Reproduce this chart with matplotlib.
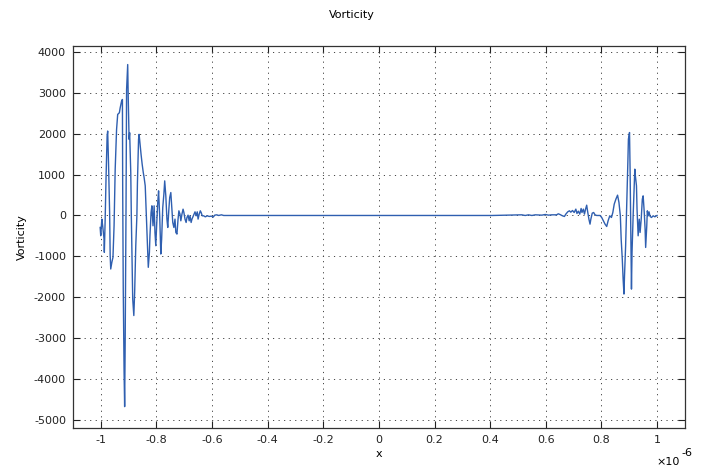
import matplotlib
matplotlib.use("Agg")
import matplotlib.pyplot as plt
import numpy as np

# x in units of 1e-6, vorticity values
left_x = [-1.002, -1.000, -0.996, -0.993, -0.988, -0.987, -0.984, -0.981, -0.977, -0.975,
          -0.972, -0.968, -0.966, -0.964, -0.960, -0.956, -0.952, -0.948, -0.943, -0.939,
          -0.933, -0.930, -0.925, -0.922, -0.921, -0.919, -0.916, -0.914, -0.912, -0.909,
          -0.907, -0.903, -0.901, -0.898, -0.896, -0.892, -0.890, -0.887, -0.885, -0.881,
          -0.878, -0.874, -0.870, -0.868, -0.864, -0.862, -0.858, -0.855, -0.851, -0.847,
          -0.844, -0.840, -0.836, -0.833, -0.829, -0.825, -0.823, -0.819, -0.816, -0.812,
          -0.808, -0.805, -0.802, -0.799, -0.795, -0.792, -0.788, -0.784, -0.781, -0.777,
          -0.773, -0.770, -0.766, -0.762, -0.759, -0.755, -0.752, -0.748, -0.744, -0.741,
          -0.737, -0.733, -0.730, -0.726, -0.722, -0.719, -0.715, -0.712, -0.708, -0.704,
          -0.701, -0.697, -0.693, -0.690, -0.686, -0.682, -0.679, -0.675, -0.672, -0.668,
          -0.664, -0.661, -0.657, -0.653, -0.650, -0.646, -0.642, -0.639, -0.635, -0.630,
          -0.624, -0.617, -0.610, -0.602, -0.596, -0.590, -0.583, -0.576, -0.566, -0.558]
left_y = [-293, -496, -89, -252, -577, -902, -89, 886, 1943, 2065,
          1293, 73, -984, -1309, -1146, -1024, -252, 1130, 2106, 2472,
          2512, 2634, 2797, 2837, 642, -1797, -3829, -4675, -3016, 236,
          3081, 3691, 2837, 1862, 2024, 1049, -8, -1228, -2041, -2447,
          -1878, -740, -8, 805, 1862, 1984, 1699, 1496, 1252, 1049,
          927, 724, -8, -577, -1268, -902, -496, 73, 236, -252,
          236, -415, -740, -252, 317, 602, -8, -943, -577, 195,
          520, 846, 480, -89, -293, 154, 439, 561, 154, -171,
          -293, -89, -415, -455, -89, 114, 33, -130, 33, 154,
          73, -89, -171, -49, 8, -130, -8, -171, -89, -24,
          41, 89, -8, 89, -89, 33, 114, 73, -8, -8,
          -33, -8, -24, -16, -41, 8, 16, 0, 16, 0]

mid_x = [-0.3, 0.0, 0.3]
mid_y = [0, 0, 0]

right_x = [0.407, 0.514, 0.526, 0.538, 0.550, 0.562, 0.586, 0.598, 0.610, 0.621,
           0.639, 0.645, 0.651, 0.660, 0.667, 0.672, 0.679, 0.685, 0.690, 0.696,
           0.702, 0.708, 0.712, 0.717, 0.722, 0.727, 0.730, 0.735, 0.739, 0.743,
           0.747, 0.750, 0.755, 0.759, 0.762, 0.767, 0.772, 0.777, 0.783, 0.789,
           0.795, 0.801, 0.807, 0.813, 0.819, 0.824, 0.830, 0.836, 0.841, 0.846,
           0.852, 0.858, 0.863, 0.868, 0.871, 0.875, 0.878, 0.881, 0.883, 0.887,
           0.890, 0.893, 0.895, 0.897, 0.901, 0.903, 0.906, 0.908, 0.910, 0.914,
           0.918, 0.920, 0.922, 0.926, 0.928, 0.932, 0.936, 0.939, 0.943, 0.947,
           0.950, 0.954, 0.957, 0.959, 0.963, 0.965, 0.968, 0.971, 0.975, 0.980,
           0.986, 0.992, 1.000]
right_y = [0, 16, 0, 16, 0, 16, 8, 24, 8, 16,
           16, 41, 24, -8, -24, 33, 90, 114, 81, 122,
           73, 155, 49, 106, 33, 171, 73, 155, 33, 155,
           252, 114, -90, -212, -90, 57, 73, 16, 0, 0,
           0, -49, -130, -212, -269, -130, -8, -49, 73, 277,
           399, 497, 318, -8, -578, -1067, -1556, -1922, -1475, -741,
           -8, 644, 1295, 1866, 2029, 1133, -497, -1800, -904, -8,
           725, 1133, 970, 725, 155, -497, -90, -415, -90, 399,
           480, 73, -334, -782, -253, 114, -8, 90, -24, -49,
           -8, -33, 0]

xticks = [-1, -0.8, -0.6, -0.4, -0.2, 0, 0.2, 0.4, 0.6, 0.8, 1]
xtick_labels = ["-1", "-0.8", "-0.6", "-0.4", "-0.2", "0", "0.2", "0.4", "0.6", "0.8", "1"]
yticks = [-5000, -4000, -3000, -2000, -1000, 0, 1000, 2000, 3000, 4000]

plt.rcParams["font.family"] = ["DejaVu Sans"]
plt.rcParams["font.size"] = 8
plt.rcParams["axes.unicode_minus"] = False

xs = np.array(left_x + mid_x + right_x)
ys = np.array(left_y + mid_y + right_y)

fig = plt.figure(figsize=(7.01, 4.72), dpi=100)
ax = fig.add_axes([0.104, 0.093, 0.873, 0.81])
ax.plot(xs, ys, color="#2f5fb0", linewidth=1.0)

ax.set_xlim(-1.1, 1.1)
ax.set_ylim(-5200, 4150)
ax.set_xticks(xticks)
ax.set_xticklabels(xtick_labels)
ax.set_yticks(yticks)
ax.grid(True, color="#444444", linestyle=(0, (1.2, 4.5)), linewidth=0.7)
ax.tick_params(direction="in", top=True, right=True, length=5, width=0.8,
               labelsize=8, colors="#222222", pad=5)
for s in ax.spines.values():
    s.set_color("#333333")
    s.set_linewidth(0.9)

# 轴标签和标题
ax.set_xlabel("x", fontsize=8, labelpad=3)
ax.set_ylabel("Vorticity", fontsize=8, labelpad=5)
fig.text(0.502, 0.968, "Vorticity", ha="center", va="center", fontsize=8)
fig.text(0.936, 0.022, "\u00d710", ha="left", va="center", fontsize=8)
fig.text(0.972, 0.041, "-6", ha="left", va="center", fontsize=8)

fig.savefig("out.png", dpi=100)
